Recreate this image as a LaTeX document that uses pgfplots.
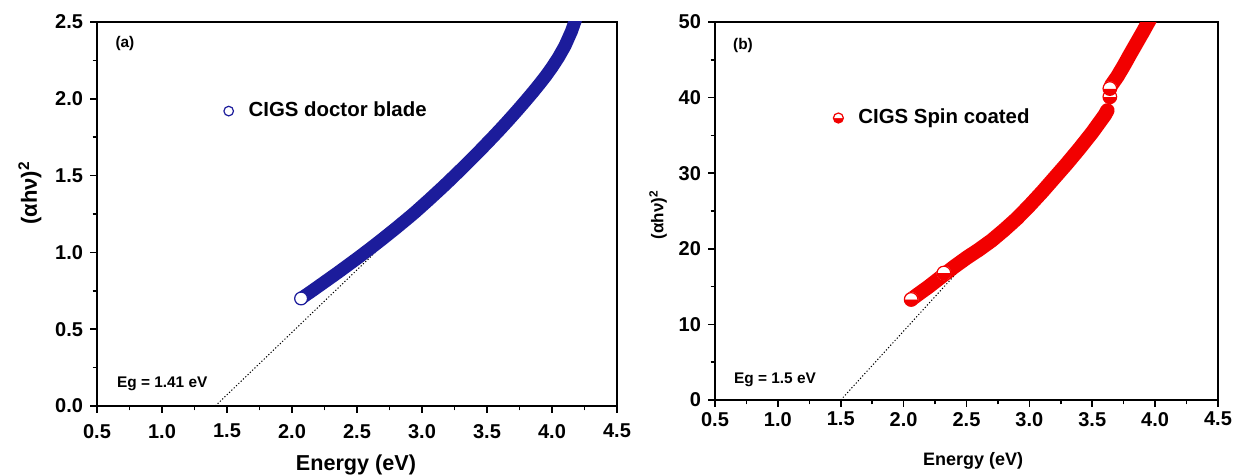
\documentclass[border=0pt]{standalone}
\usepackage{fontspec}
\setmainfont{Liberation Sans}
\usepackage{pgfplots}
\usepackage{pgfplotstable}
\pgfplotsset{compat=1.18}
\usetikzlibrary{plotmarks}

\definecolor{navy}{RGB}{28,28,155}
\definecolor{cred}{RGB}{242,0,0}

% (a) doctor blade
\pgfplotstableread{
E   A
2.07 0.700
2.10 0.718
2.15 0.747
2.20 0.777
2.25 0.807
2.30 0.837
2.35 0.867
2.40 0.898
2.45 0.929
2.50 0.960
2.55 0.992
2.60 1.024
2.65 1.057
2.70 1.090
2.75 1.124
2.80 1.158
2.85 1.193
2.90 1.228
2.95 1.264
3.00 1.302
3.05 1.340
3.10 1.379
3.15 1.418
3.20 1.458
3.25 1.499
3.30 1.540
3.35 1.582
3.40 1.624
3.45 1.667
3.50 1.711
3.55 1.755
3.60 1.800
3.65 1.846
3.70 1.893
3.75 1.941
3.80 1.990
3.85 2.040
3.90 2.092
3.95 2.146
4.00 2.205
4.05 2.270
4.10 2.345
4.15 2.440
4.20 2.560
4.25 2.700
}\blade

% (b) spin coated, below the step at 3.63 eV
\pgfplotstableread{
E   A
2.06 13.30
2.10 13.80
2.15 14.40
2.20 15.00
2.25 15.65
2.30 16.30
2.35 16.95
2.40 17.60
2.45 18.20
2.50 18.80
2.55 19.35
2.60 19.90
2.65 20.50
2.70 21.10
2.75 21.80
2.80 22.50
2.85 23.25
2.90 24.00
2.95 24.85
3.00 25.70
3.05 26.60
3.10 27.50
3.15 28.45
3.20 29.40
3.25 30.35
3.30 31.30
3.35 32.30
3.40 33.30
3.45 34.35
3.50 35.40
3.55 36.55
3.60 37.70
3.62 38.30
}\spinlow

% (b) spin coated, above the step
\pgfplotstableread{
E   A
3.65 41.60
3.70 42.80
3.75 44.20
3.80 45.70
3.85 47.15
3.90 48.60
3.96 50.40
}\spinhigh

\pgfplotsset{
  panel/.style={
    scale only axis,
    axis line style={line width=1pt},
    tick pos=left,
    tick align=outside,
    major tick length=3.5pt,
    minor tick length=2.2pt,
    every tick/.style={black, line width=0.8pt},
    minor x tick num=1,
    minor y tick num=1,
    xmin=0.5, xmax=4.5,
    xtick={0.5,1.0,1.5,2.0,2.5,3.0,3.5,4.0,4.5},
    /pgf/number format/assume math mode=true,
    ticklabel style={font=\bfseries\fontsize{10}{11}\selectfont},
    xticklabel style={/pgf/number format/fixed, /pgf/number format/fixed zerofill, /pgf/number format/precision=1},
    legend style={draw=none, fill=none, inner sep=0pt, nodes={inner sep=0pt},
      font=\bfseries\fontsize{10.2}{12}\selectfont, anchor=west, xshift=-3pt},
    legend cell align=left,
    legend image code/.code={%
      \path[draw=none, fill=none] (-3pt,-3pt) rectangle (10pt,3pt);
      \draw[##1] plot coordinates {(0pt,0pt)};},
  },
}
\tikzset{lab/.style={font=\bfseries\fontsize{7.7}{9}\selectfont, anchor=west}}

\begin{document}
\begin{tikzpicture}
\useasboundingbox (0,0) rectangle (616.5pt,238pt);

\begin{axis}[panel,
  at={(48.5pt,35pt)}, anchor=south west,
  width=260pt, height=192pt,
  ymin=0, ymax=2.5,
  ytick={0,0.5,1.0,1.5,2.0,2.5},
  yticklabel style={/pgf/number format/fixed, /pgf/number format/fixed zerofill, /pgf/number format/precision=1},
  xticklabel style={yshift=-2pt},
  xlabel={Energy (eV)},
  xlabel style={font=\bfseries\fontsize{10.8}{13}\selectfont, at={(axis description cs:0.498,-0.154)}, anchor=center},
  ylabel={(αhν)\textsuperscript{2}},
  ylabel style={font=\bfseries\fontsize{11}{13}\selectfont, at={(axis description cs:-0.129,0.555)}, anchor=center},
  legend style={at={(axis cs:1.51,1.92)}},
]
\addplot[black, line width=0.5pt, dash pattern=on 0.6pt off 1pt, forget plot] coordinates {(1.41,0) (2.64,1.00)};
\addplot[navy, line width=6.5pt, line cap=round, line join=round, forget plot] table[x=E, y=A] {\blade};
\addplot[navy, only marks, mark=*, mark size=3.2pt, mark options={line width=0.6pt, fill=white, draw=navy}, forget plot] coordinates {(2.07,0.70)};
\addplot[navy, only marks, mark=o, mark size=2.4pt, mark options={line width=0.6pt}] coordinates {(-1,-1)};
\addlegendentry{CIGS doctor blade}
\node[lab] at (rel axis cs:0.022,0.943) {(a)};
\node[lab] at (rel axis cs:0.025,0.057) {Eg = 1.41 eV};
\end{axis}

\begin{axis}[panel,
  at={(357.5pt,38pt)}, anchor=south west,
  width=251.5pt, height=189pt,
  ymin=0, ymax=50,
  ytick={0,10,20,30,40,50},
  xticklabel style={yshift=1pt},
  xlabel={Energy (eV)},
  xlabel style={font=\bfseries\fontsize{9}{11}\selectfont, at={(axis description cs:0.513,-0.16)}, anchor=center},
  ylabel={(αhν)\textsuperscript{2}},
  ylabel style={font=\bfseries\fontsize{8.5}{10}\selectfont, at={(axis description cs:-0.113,0.49)}, anchor=center},
  legend style={at={(axis cs:1.478,37.3)}},
]
\addplot[black, line width=0.5pt, dash pattern=on 0.6pt off 1pt, forget plot] coordinates {(1.5,0) (2.52,18.6)};
\addplot[cred, line width=7.2pt, line cap=round, line join=round, forget plot] table[x=E, y=A] {\spinlow};
\addplot[cred, line width=7.2pt, line cap=round, line join=round, forget plot] table[x=E, y=A] {\spinhigh};
\addplot[white, only marks, mark=*, mark size=3.4pt, forget plot] coordinates {(2.06,13.3) (2.32,16.8) (3.64,40.1) (3.64,41.2)};
\addplot[cred, only marks, mark=halfcircle*, mark size=3.4pt, mark options={rotate=180, fill=cred, draw=cred, line width=0.6pt}, forget plot] coordinates {(2.06,13.3) (2.32,16.8) (3.64,40.1) (3.64,41.2)};
\addplot[cred, only marks, mark=halfcircle*, mark size=2.5pt, mark options={rotate=180, fill=cred, draw=cred, line width=0.6pt}] coordinates {(-1,-1)};
\addlegendentry{CIGS Spin coated}
\node[lab] at (rel axis cs:0.022,0.937) {(b)};
\node[lab] at (rel axis cs:0.024,0.053) {Eg = 1.5 eV};
\end{axis}
\end{tikzpicture}
\end{document}
